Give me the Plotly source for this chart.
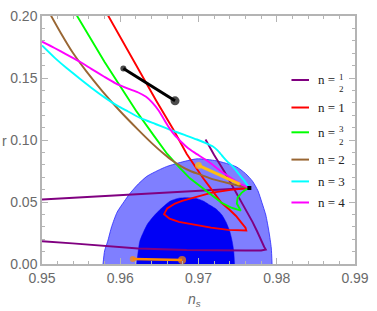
import plotly.graph_objects as go

# ---------------- data ----------------
# Planck-like confidence regions (n_s, r)
outer_ns = [0.9578, 0.9580, 0.9584, 0.9589, 0.9596, 0.9605, 0.9613, 0.9623, 0.9634, 0.9648,
            0.9659, 0.9675, 0.9698, 0.9723, 0.9748, 0.9760, 0.9769, 0.9776, 0.9781, 0.9786,
            0.9790, 0.9793, 0.9794]
outer_r = [0.0000, 0.0106, 0.0184, 0.0301, 0.0418, 0.0504, 0.0574, 0.0645, 0.0707, 0.0754,
           0.0785, 0.0816, 0.0848, 0.0832, 0.0785, 0.0730, 0.0668, 0.0590, 0.0496, 0.0395,
           0.0262, 0.0129, 0.0000]

inner_ns = [0.9621, 0.9625, 0.9630, 0.9635, 0.9644, 0.9654, 0.9664, 0.9675, 0.9685, 0.9698,
            0.9706, 0.9715, 0.9723, 0.9730, 0.9735, 0.9740, 0.9743, 0.9745, 0.9746]
inner_r = [0.0000, 0.0184, 0.0262, 0.0324, 0.0395, 0.0457, 0.0508, 0.0531, 0.0535, 0.0527,
           0.0508, 0.0473, 0.0441, 0.0395, 0.0340, 0.0262, 0.0184, 0.0105, 0.0000]

# n = 1/2 (two branches)
half_ns = [0.9500, 0.9573, 0.9635, 0.9765, None,
           0.9709, 0.9720, 0.9733, 0.9745, 0.9755, 0.9763, 0.9769, 0.9775, 0.9780, 0.9784,
           0.9786, 0.9780, 0.9760, 0.9735, 0.9685, 0.9623, 0.9581, 0.9539, 0.9500]
half_r = [0.0520, 0.0545, 0.0570, 0.0613, None,
          0.1004, 0.0879, 0.0746, 0.0613, 0.0496, 0.0410, 0.0340, 0.0262, 0.0184, 0.0137,
          0.0117, 0.0109, 0.0109, 0.0111, 0.0113, 0.0125, 0.0148, 0.0166, 0.0184]

# n = 1
one_ns = [0.9583, 0.9604, 0.9625, 0.9646, 0.9668, 0.9685, 0.9696, 0.9706, 0.9718, 0.9729,
          0.9739, 0.9748, 0.9755, 0.9760, 0.9761, 0.9748, 0.9738, 0.9716, 0.9695, 0.9675,
          0.9663, 0.9656, 0.9660, 0.9670, 0.9679, 0.9698, 0.9716, 0.9741, 0.9765]
one_r = [0.2020, 0.1785, 0.1551, 0.1316, 0.1082, 0.0887, 0.0785, 0.0691, 0.0590, 0.0496,
         0.0441, 0.0387, 0.0332, 0.0293, 0.0270, 0.0270, 0.0275, 0.0293, 0.0314, 0.0340,
         0.0366, 0.0402, 0.0449, 0.0488, 0.0509, 0.0543, 0.0574, 0.0598, 0.0613]

# n = 3/2
three_half_ns = [0.9543, 0.9561, 0.9580, 0.9600, 0.9620, 0.9642, 0.9660, 0.9674, 0.9689, 0.9708,
                 0.9729, 0.9741, 0.9754, 0.9749, 0.9750, 0.9755, 0.9760, 0.9765]
three_half_r = [0.2020, 0.1824, 0.1629, 0.1434, 0.1238, 0.1043, 0.0887, 0.0789, 0.0691, 0.0598,
                0.0496, 0.0457, 0.0430, 0.0488, 0.0535, 0.0574, 0.0598, 0.0613]

# n = 2
two_ns = [0.9510, 0.9524, 0.9539, 0.9557, 0.9577, 0.9599, 0.9623, 0.9642, 0.9656, 0.9666,
          0.9679, 0.9691, 0.9704, 0.9716, 0.9729, 0.9748, 0.9765]
two_r = [0.2020, 0.1863, 0.1707, 0.1551, 0.1395, 0.1238, 0.1082, 0.0965, 0.0887, 0.0836,
         0.0783, 0.0746, 0.0717, 0.0688, 0.0666, 0.0637, 0.0613]

# n = 3
three_ns = [0.9500, 0.9516, 0.9531, 0.9548, 0.9563, 0.9579, 0.9595, 0.9610, 0.9626, 0.9645,
            0.9664, 0.9683, 0.9698, 0.9710, 0.9718, 0.9724, 0.9730, 0.9736, 0.9744, 0.9751,
            0.9758, 0.9765]
three_r = [0.1762, 0.1664, 0.1582, 0.1496, 0.1422, 0.1348, 0.1281, 0.1230, 0.1176, 0.1129,
           0.1082, 0.1039, 0.1004, 0.0973, 0.0949, 0.0918, 0.0875, 0.0832, 0.0785, 0.0730,
           0.0676, 0.0613]

# n = 4
four_ns = [0.9500, 0.9516, 0.9531, 0.9548, 0.9563, 0.9579, 0.9594, 0.9610, 0.9623, 0.9633,
           0.9641, 0.9649, 0.9655, 0.9661, 0.9669, 0.9678, 0.9686, 0.9695, 0.9713, 0.9729,
           0.9745, 0.9755, 0.9765]
four_r = [0.1793, 0.1742, 0.1691, 0.1633, 0.1574, 0.1512, 0.1457, 0.1414, 0.1383, 0.1348,
          0.1301, 0.1238, 0.1176, 0.1113, 0.1043, 0.0984, 0.0938, 0.0898, 0.0824, 0.0746,
          0.0680, 0.0641, 0.0613]

# extra segments with end markers
black_ns = [0.9604, 0.9670]
black_r = [0.1577, 0.1316]
orange_ns = [0.9616, 0.9679]
orange_r = [0.0041, 0.0033]
gold_ns = [0.9700, 0.9752]
gold_r = [0.0795, 0.0647]
point_ns = [0.9765]
point_r = [0.0613]

x_ticks = [0.95, 0.96, 0.97, 0.98, 0.99]
x_tick_text = ["0.95", "0.96", "0.97", "0.98", "0.99"]
y_ticks = [0.00, 0.05, 0.10, 0.15, 0.20]
y_tick_text = ["0.00", "0.05", "0.10", "0.15", "0.20"]

legend_labels = ["n = ", "n = 1", "n = ", "n = 2", "n = 3", "n = 4"]
legend_fracs = [("1", "2"), None, ("3", "2"), None, None, None]
legend_colors = ["#800080", "#ff0000", "#00ff00", "#996633", "#00ffff", "#ff00ff"]

# ---------------- figure ----------------
fig = go.Figure()

fig.add_trace(go.Scatter(x=outer_ns, y=outer_r, mode="lines", fill="toself",
                         fillcolor="rgba(0,0,255,0.5)",
                         line=dict(color="rgba(40,40,255,0.8)", width=1, shape="spline", smoothing=0.6),
                         hoverinfo="skip", showlegend=False))
fig.add_trace(go.Scatter(x=inner_ns, y=inner_r, mode="lines", fill="toself",
                         fillcolor="rgb(0,0,245)",
                         line=dict(color="rgb(0,0,245)", width=0.5, shape="spline", smoothing=0.6),
                         hoverinfo="skip", showlegend=False))

curves = [
    (half_ns, half_r, legend_colors[0], "linear"),
    (one_ns, one_r, legend_colors[1], "linear"),
    (three_half_ns, three_half_r, legend_colors[2], "linear"),
    (two_ns, two_r, legend_colors[3], "spline"),
    (three_ns, three_r, legend_colors[4], "spline"),
    (four_ns, four_r, legend_colors[5], "spline"),
]
for xs, ys, c, shp in curves:
    fig.add_trace(go.Scatter(x=xs, y=ys, mode="lines",
                             line=dict(color=c, width=1.9, shape=shp, smoothing=0.6),
                             connectgaps=False, showlegend=False, hoverinfo="skip"))

fig.add_trace(go.Scatter(x=gold_ns, y=gold_r, mode="lines+markers",
                         line=dict(color="#ffbf10", width=3),
                         marker=dict(color="#ffbf10", size=[7, 3], line=dict(width=0)),
                         showlegend=False, hoverinfo="skip"))
fig.add_trace(go.Scatter(x=black_ns, y=black_r, mode="lines+markers",
                         line=dict(color="black", width=3),
                         marker=dict(color="black", size=[6, 9], line=dict(width=0)),
                         showlegend=False, hoverinfo="skip"))
fig.add_trace(go.Scatter(x=orange_ns, y=orange_r, mode="lines+markers",
                         line=dict(color="#ff8a00", width=2.5),
                         marker=dict(color="#ff8a00", size=[6, 8], line=dict(width=0)),
                         showlegend=False, hoverinfo="skip"))
fig.add_trace(go.Scatter(x=point_ns, y=point_r, mode="markers",
                         marker=dict(color="black", size=4, symbol="square", line=dict(width=0)),
                         showlegend=False, hoverinfo="skip"))

axis_common = dict(
    showline=True, linecolor="#b4b4b4", linewidth=1.5, mirror="allticks",
    ticks="inside", ticklen=6, tickcolor="#b4b4b4", tickwidth=1,
    showgrid=False, zeroline=False, ticklabeloverflow="allow",
    tickfont=dict(family="Liberation Sans, Arial, sans-serif", size=14, color="#6a6a6a"),
)
fig.update_xaxes(range=[0.95, 0.99], tickvals=x_ticks, ticktext=x_tick_text,
                 minor=dict(dtick=0.002, ticks="inside", ticklen=3, tickcolor="#b4b4b4"),
                 ticklabelstandoff=0, **axis_common)
fig.update_yaxes(range=[0.0, 0.20], tickvals=y_ticks, ticktext=y_tick_text,
                 minor=dict(dtick=0.01, ticks="inside", ticklen=3, tickcolor="#b4b4b4"),
                 ticklabelstandoff=0, **axis_common)

# axis labels
fig.add_annotation(text="r", xref="paper", yref="paper", x=-0.12, y=0.495,
                   showarrow=False, xanchor="center", yanchor="middle",
                   font=dict(family="Liberation Sans, Arial, sans-serif", size=14, color="#6a6a6a"))
fig.add_annotation(text="<i>n</i><sub><i>s</i></sub>", xref="paper", yref="paper",
                   x=0.4875, y=-0.145, showarrow=False, xanchor="center", yanchor="middle",
                   font=dict(family="Liberation Sans, Arial, sans-serif", size=14, color="#6a6a6a"))

# manual legend
legend_y = [0.742, 0.631, 0.531, 0.421, 0.333, 0.248]
serif = "Liberation Serif, Times New Roman, serif"
for lab, frac, col, ly in zip(legend_labels, legend_fracs, legend_colors, legend_y):
    fig.add_shape(type="line", xref="paper", yref="paper", x0=0.797, x1=0.853, y0=ly, y1=ly,
                  line=dict(color=col, width=2))
    fig.add_annotation(text=lab, xref="paper", yref="paper", x=0.875, y=ly,
                       showarrow=False, xanchor="left", yanchor="middle",
                       font=dict(family=serif, size=13, color="#222"))
    if frac:
        fig.add_annotation(text=frac[0], xref="paper", yref="paper", x=0.958, y=ly + 0.012,
                           showarrow=False, xanchor="center", yanchor="middle",
                           font=dict(family=serif, size=9, color="#222"))
        fig.add_annotation(text=frac[1], xref="paper", yref="paper", x=0.958, y=ly - 0.038,
                           showarrow=False, xanchor="center", yanchor="middle",
                           font=dict(family=serif, size=9, color="#222"))

fig.update_layout(
    width=377, height=311,
    margin=dict(l=42, r=15, t=8, b=47),
    plot_bgcolor="white", paper_bgcolor="white",
    showlegend=False,
)

fig.write_html("out.html", config={"displayModeBar": False},
               post_script="document.body.style.margin='0px';")
